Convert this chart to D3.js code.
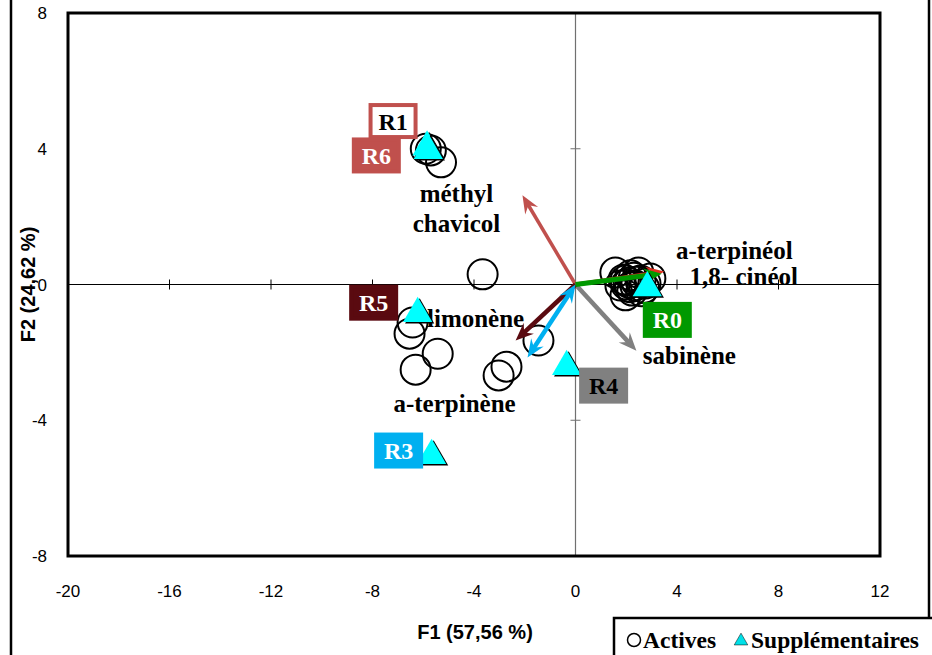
<!DOCTYPE html>
<html><head><meta charset="utf-8">
<script src="https://cdn.jsdelivr.net/npm/d3@7"></script>
<style>body{margin:0;background:#fff}svg{display:block}</style>
</head><body>
<script>
// ---- data ----
const activeF1 = [-5.9,-5.7,-5.3,-3.66,-6.42,-6.54,-5.43,-6.30,-2.72,-3.03,-1.46,
                  1.57,1.97,2.17,2.36,2.56,2.76,1.97,2.24,2.95,2.48,1.77,2.6,2.1,2.3,2.0,2.7,1.9,2.4,2.15];
const activeF2 = [4.0,3.95,3.6,0.3,-1.12,-1.45,-2.04,-2.51,-2.42,-2.68,-1.65,
                  0.35,0.12,0.27,-0.03,0.12,0.03,-0.32,-0.18,0.18,0.35,-0.03,-0.2,0.05,0.2,0.0,-0.1,0.15,0.08,-0.08];
const suppNames = ["R1","R6","R5","R3","R4","R0"];
const suppF1 = [-5.85,-5.8,-6.22,-5.67,-0.35,2.83];
const suppF2 = [4.05,3.95,-0.86,-5.04,-2.42,-0.1];
const varNames = ["méthyl chavicol","a-terpinéol","1,8- cinéol","sabinène","limonène","a-terpinène"];
const varF1 = [-2.09,3.5,3.4,2.4,-2.36,-1.89];
const varF2 = [2.63,0.38,0.32,-1.95,-1.65,-2.15];
const xTicks = [-20,-16,-12,-8,-4,0,4,8,12];
const yTicks = [-8,-4,0,4,8];

// ---- styles ----
const varColor = ["#c0504d","#e03020","#009900","#808080","#5a0a10","#00b0f0"];
const varWidth = [3.5,4,5,4.5,4.5,4.5];
const suppStyle = {
  R1:{fill:"#ffffff",stroke:"#c0504d",text:"#000",dx:-34,dy:-26},
  R6:{fill:"#c0504d",stroke:"#c0504d",text:"#fff",dx:-52,dy:5},
  R5:{fill:"#5a0a10",stroke:"#5a0a10",text:"#fff",dx:-44,dy:-11},
  R3:{fill:"#00b0f0",stroke:"#00b0f0",text:"#fff",dx:-33,dy:-5},
  R4:{fill:"#808080",stroke:"#808080",text:"#000",dx:37,dy:19},
  R0:{fill:"#009900",stroke:"#009900",text:"#fff",dx:20,dy:32}
};
const varLabel = [
  {lines:["méthyl","chavicol"],dx:-66,dy:7},
  {lines:["a-terpinéol"],dx:70,dy:-13},
  {lines:["1,8- cinéol"],dx:82,dy:11},
  {lines:["sabinène"],dx:53,dy:13},
  {lines:["limonène"],dx:-40,dy:-13},
  {lines:["a-terpinène"],dx:-73,dy:55}
];

const W=932,H=655;
const svg=d3.select("body").append("svg").attr("width",W).attr("height",H);
const x=d3.scaleLinear().domain([-20,12]).range([68,880]);
const y=d3.scaleLinear().domain([-8,8]).range([556,13]);
const serif="'Liberation Serif','Times New Roman',serif";
const sans="'Liberation Sans',Arial,sans-serif";

// outer chart border
svg.append("rect").attr("x",11).attr("y",-10).attr("width",918).attr("height",H+20)
  .attr("fill","none").attr("stroke","#000").attr("stroke-width",2.5);

// axis tick labels
svg.append("g").selectAll("text").data(xTicks).join("text")
  .attr("x",d=>x(d)).attr("y",597).attr("text-anchor","middle")
  .attr("font-family",sans).attr("font-size",17).text(d=>d);
svg.append("g").selectAll("text").data(yTicks).join("text")
  .attr("x",47).attr("y",d=>y(d)+6).attr("text-anchor","end")
  .attr("font-family",sans).attr("font-size",17).text(d=>d);

// axis titles
svg.append("text").attr("x",475).attr("y",639).attr("text-anchor","middle")
  .attr("font-family",sans).attr("font-weight","bold").attr("font-size",20).text("F1 (57,56 %)");
svg.append("text").attr("transform",`translate(35,${y(0)}) rotate(-90)`).attr("text-anchor","middle")
  .attr("font-family",sans).attr("font-weight","bold").attr("font-size",20).text("F2 (24,62 %)");

// zero lines
svg.append("line").attr("x1",x(-20)).attr("x2",x(12)).attr("y1",y(0)).attr("y2",y(0))
  .attr("stroke","#000").attr("stroke-width",1.2);
svg.append("line").attr("x1",x(0)).attr("x2",x(0)).attr("y1",y(8)).attr("y2",y(-8))
  .attr("stroke","#707070").attr("stroke-width",1.2);
// cross ticks
svg.append("g").selectAll("line").data(xTicks.filter(d=>d!==0&&d!==-20&&d!==12)).join("line")
  .attr("x1",d=>x(d)).attr("x2",d=>x(d)).attr("y1",y(0)-5).attr("y2",y(0)+5)
  .attr("stroke","#000").attr("stroke-width",1);
svg.append("g").selectAll("line").data(yTicks.filter(d=>d!==0&&Math.abs(d)!==8)).join("line")
  .attr("x1",x(0)-5).attr("x2",x(0)+5).attr("y1",d=>y(d)).attr("y2",d=>y(d))
  .attr("stroke","#707070").attr("stroke-width",1);

// active points
svg.append("g").selectAll("circle").data(activeF1).join("circle")
  .attr("cx",d=>x(d)).attr("cy",(d,i)=>y(activeF2[i])).attr("r",15)
  .attr("fill","none").attr("stroke","#000").attr("stroke-width",2);

// variable labels
const lg=svg.append("g");
varNames.forEach((n,i)=>{
  const L=varLabel[i];
  const t=lg.append("text").attr("font-family",serif).attr("font-weight","bold")
    .attr("font-size",25).attr("text-anchor","middle");
  L.lines.forEach((ln,k)=>{
    t.append("tspan").attr("x",x(varF1[i])+L.dx).attr("y",y(varF2[i])+L.dy+k*30).text(ln);
  });
});

// arrows
function head(x1,y1,x2,y2,len,wid){
  const a=Math.atan2(y2-y1,x2-x1),c=Math.cos(a),s=Math.sin(a);
  const bx=x2-c*len,by=y2-s*len,nx=x2-c*len*0.65,ny=y2-s*len*0.65;
  return `M${x2},${y2}L${bx-s*wid/2},${by+c*wid/2}L${nx},${ny}L${bx+s*wid/2},${by-c*wid/2}Z`;
}
const ag=svg.append("g");
const ox=x(0),oy=y(0);
const order=[1,0,3,4,5,2];
order.forEach(i=>{
  const ex=x(varF1[i]),ey=y(varF2[i]);
  const a=Math.atan2(ey-oy,ex-ox);
  const L=16;
  const sx = i===5? ox+Math.cos(a)*L*0.6:ox, sy = i===5? oy+Math.sin(a)*L*0.6:oy;
  ag.append("line").attr("x1",sx).attr("y1",sy)
    .attr("x2",ex-Math.cos(a)*L*0.6).attr("y2",ey-Math.sin(a)*L*0.6)
    .attr("stroke",varColor[i]).attr("stroke-width",varWidth[i]);
  ag.append("path").attr("d",head(ox,oy,ex,ey,18,15)).attr("fill",varColor[i]);
  if(i===5) ag.append("path").attr("d",head(ex,ey,ox,oy,18,15)).attr("fill",varColor[i]);
});

// supplementary triangles
const tri=d3.symbol().type(d3.symbolTriangle).size(370);
const sg=svg.append("g");
suppNames.forEach((n,i)=>{
  const px=x(suppF1[i]),py=y(suppF2[i]);
  sg.append("path").attr("d",tri()).attr("transform",`translate(${px+2},${py+1.5})`).attr("fill","#000");
  sg.append("path").attr("d",tri()).attr("transform",`translate(${px},${py})`).attr("fill","#00ffff");
});

// supplementary label boxes
const bg=svg.append("g");
suppNames.forEach((n,i)=>{
  const s=suppStyle[n];
  const cx=x(suppF1[i])+s.dx,cy=y(suppF2[i])+s.dy;
  bg.append("rect").attr("x",cx-22.5).attr("y",cy-16).attr("width",45).attr("height",32)
    .attr("fill",s.fill).attr("stroke",s.stroke).attr("stroke-width",4);
  bg.append("text").attr("x",cx).attr("y",cy+8.5).attr("text-anchor","middle")
    .attr("font-family",serif).attr("font-weight","bold").attr("font-size",24)
    .attr("fill",s.text).text(n);
});

// plot frame
svg.append("rect").attr("x",x(-20)).attr("y",y(8)).attr("width",x(12)-x(-20)).attr("height",y(-8)-y(8))
  .attr("fill","none").attr("stroke","#000").attr("stroke-width",3);

// legend
const leg=svg.append("g");
leg.append("rect").attr("x",614).attr("y",618).attr("width",330).attr("height",60)
  .attr("fill","#fff").attr("stroke","#000").attr("stroke-width",2.5);
leg.append("circle").attr("cx",634).attr("cy",640).attr("r",6.5).attr("fill","none").attr("stroke","#000").attr("stroke-width",1.5);
leg.append("text").attr("x",643).attr("y",648).attr("font-family",serif).attr("font-weight","bold")
  .attr("font-size",23.5).text("Actives");
leg.append("path").attr("d",d3.symbol().type(d3.symbolTriangle).size(80)()).attr("transform","translate(741,641)")
  .attr("fill","#00e0e8").attr("stroke","#000").attr("stroke-width",0.5);
leg.append("text").attr("x",751).attr("y",648).attr("font-family",serif).attr("font-weight","bold")
  .attr("font-size",23.5).text("Supplémentaires");
</script>
</body></html>
